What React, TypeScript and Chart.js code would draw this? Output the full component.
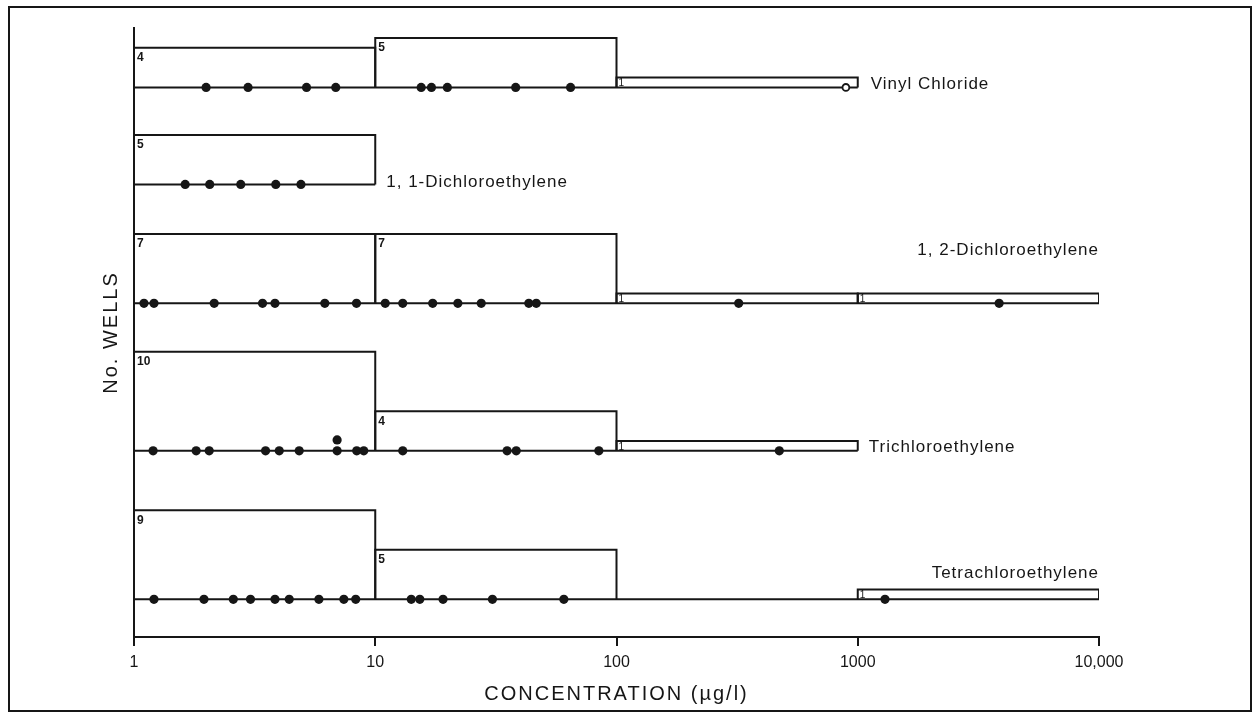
import { useEffect, useRef } from "react";
import { Chart, registerables } from "chart.js";

Chart.register(...registerables);

const INK = "#161616";

// ---- axis data ----
const binEdges = [1, 10, 100, 1000, 10000];
const xTickValues = [1, 10, 100, 1000, 10000];
const xTickLabels = ["1", "10", "100", "1000", "10,000"];
const xAxisTitle = "CONCENTRATION (\u00b5g/l)";
const yAxisTitle = "No. WELLS";

// ---- compounds ----
const compoundNames = [
  "Vinyl Chloride",
  "1, 1-Dichloroethylene",
  "1, 2-Dichloroethylene",
  "Trichloroethylene",
  "Tetrachloroethylene",
];

// number of wells per decade bin (1-10, 10-100, 100-1000, 1000-10000)
const vinylCounts = [4, 5, 1, 0];
const dce11Counts = [5, 0, 0, 0];
const dce12Counts = [7, 7, 1, 1];
const tceCounts = [10, 4, 1, 0];
const pceCounts = [9, 5, 0, 1];

// individual well concentrations (ug/l)
const vinylValues = [1.99, 2.97, 5.19, 6.86, 15.5, 17.1, 19.9, 38.2, 64.5];
const vinylOpenValues = [893];
const dce11Values = [1.63, 2.06, 2.77, 3.87, 4.92];
const dce12Values = [1.1, 1.21, 2.15, 3.41, 3.84, 6.18, 8.36, 11.0, 13.0, 17.3, 22.0, 27.5, 43.3, 46.5, 321, 3855];
const tceValues = [1.2, 1.81, 2.05, 3.51, 4.0, 4.84, 6.95, 8.38, 8.96, 13.0, 35.2, 38.4, 84.5, 473];
const tceStackedValues = [6.95];
const pceValues = [1.21, 1.95, 2.58, 3.04, 3.84, 4.4, 5.84, 7.41, 8.3, 14.1, 15.3, 19.1, 30.6, 60.5, 1297];

const countsByCompound = [vinylCounts, dce11Counts, dce12Counts, tceCounts, pceCounts];
const valuesByCompound = [vinylValues, dce11Values, dce12Values, tceValues, pceValues];

// ---- layout (positions / styles, not data) ----
const Y_MAX = 61.5;
const panelBaselines = [55.5, 45.7, 33.7, 18.8, 3.8];
const labelAnchors = [
  { x: 1000, dx: 13, dy: 0.3, align: "left" },
  { x: 10, dx: 11, dy: 0.2, align: "left" },
  { x: 10000, dx: 0, dy: 5.35, align: "right" },
  { x: 1000, dx: 11, dy: 0.4, align: "left" },
  { x: 10000, dx: 0, dy: 2.6, align: "right" },
];
const STACK_STEP = 1.1;

function buildDatasets() {
  const ds: any[] = [];
  valuesByCompound.forEach((vals, i) => {
    const b = panelBaselines[i];
    ds.push({
      type: "scatter",
      data: vals.map((v) => ({ x: v, y: b })),
      pointRadius: 4.6,
      pointBackgroundColor: INK,
      pointBorderWidth: 0,
      showLine: false,
      order: 0,
    });
  });
  ds.push({
    type: "scatter",
    data: vinylOpenValues.map((v) => ({ x: v, y: panelBaselines[0] })),
    pointRadius: 3.4,
    pointBackgroundColor: "#ffffff",
    pointBorderColor: INK,
    pointBorderWidth: 1.8,
    showLine: false,
    order: 0,
  });
  ds.push({
    type: "scatter",
    data: tceStackedValues.map((v) => ({ x: v, y: panelBaselines[3] + STACK_STEP })),
    pointRadius: 4.6,
    pointBackgroundColor: INK,
    pointBorderWidth: 0,
    showLine: false,
    order: 0,
  });
  countsByCompound.forEach((counts, i) => {
    const b = panelBaselines[i];
    let last = 0;
    counts.forEach((c, k) => {
      if (c > 0) {
        last = k;
        const lo = binEdges[k];
        const hi = binEdges[k + 1];
        ds.push({
          type: "scatter",
          showLine: true,
          data: [
            { x: lo, y: b },
            { x: lo, y: b + c },
            { x: hi, y: b + c },
            { x: hi, y: b },
          ],
          borderColor: INK,
          borderWidth: 2,
          pointRadius: 0,
          borderJoinStyle: "miter",
          tension: 0,
          order: 1,
        });
      }
    });
    ds.push({
      type: "scatter",
      showLine: true,
      data: [
        { x: binEdges[0], y: b },
        { x: binEdges[last + 1], y: b },
      ],
      borderColor: INK,
      borderWidth: 2,
      pointRadius: 0,
      order: 1,
    });
  });
  return ds;
}

const textPlugin = {
  id: "panelText",
  beforeDraw(chart: any) {
    chart.ctx.letterSpacing = "2px";
  },
  beforeDatasetsDraw(chart: any) {
    chart.ctx.letterSpacing = "0px";
  },
  afterDatasetsDraw(chart: any) {
    const { ctx } = chart;
    const xs = chart.scales.x;
    const ys = chart.scales.y;
    ctx.save();
    ctx.fillStyle = INK;
    ctx.textBaseline = "top";
    ctx.textAlign = "left";
    countsByCompound.forEach((counts, i) => {
      const b = panelBaselines[i];
      counts.forEach((c, k) => {
        if (c <= 0) return;
        const px = xs.getPixelForValue(binEdges[k]);
        const py = ys.getPixelForValue(b + c);
        if (c > 1) {
          ctx.font = "bold 12px 'Liberation Sans'";
          ctx.fillText(String(c), px + 3, py + 4);
        } else {
          ctx.font = "10px 'Liberation Sans'";
          ctx.fillText(String(c), px + 2, py + 1);
        }
      });
    });
    ctx.font = "17px 'Liberation Sans'";
    ctx.letterSpacing = "1px";
    ctx.textBaseline = "middle";
    compoundNames.forEach((name, i) => {
      const a = labelAnchors[i];
      ctx.textAlign = a.align;
      const px = xs.getPixelForValue(a.x) + a.dx;
      const py = ys.getPixelForValue(panelBaselines[i] + a.dy);
      ctx.fillText(name, px, py);
    });
    ctx.restore();
  },
};

export default function App() {
  const ref = useRef<HTMLCanvasElement>(null);
  useEffect(() => {
    const chart = new Chart(ref.current as HTMLCanvasElement, {
      type: "scatter",
      data: { datasets: buildDatasets() },
      plugins: [textPlugin],
      options: {
        responsive: false,
        animation: false,
        layout: { padding: { left: 0, top: 28, right: 160, bottom: 0 } },
        plugins: { legend: { display: false }, tooltip: { enabled: false } },
        scales: {
          x: {
            type: "logarithmic",
            min: 1,
            max: 10000,
            afterBuildTicks: (axis: any) => {
              axis.ticks = xTickValues.map((value) => ({ value }));
            },
            afterFit: (axis: any) => {
              axis.height = 83;
            },
            ticks: {
              autoSkip: false,
              maxRotation: 0,
              color: INK,
              padding: 7,
              z: 1,
              font: { family: "'Liberation Sans'", size: 16 },
              callback: (value: any) => {
                const i = xTickValues.indexOf(Number(value));
                return i >= 0 ? xTickLabels[i] : "";
              },
            },
            grid: { drawOnChartArea: false, drawTicks: true, tickLength: 9, color: INK, lineWidth: 2 },
            border: { display: true, color: INK, width: 2 },
            title: {
              display: true,
              text: xAxisTitle,
              color: INK,
              font: { family: "'Liberation Sans'", size: 20 },
              padding: { top: 0, bottom: 14 },
            },
          },
          y: {
            type: "linear",
            min: 0,
            max: Y_MAX,
            afterFit: (axis: any) => {
              axis.width = 134;
            },
            ticks: { display: false },
            grid: { display: false, drawTicks: false },
            border: { display: true, color: INK, width: 2 },
            title: {
              display: true,
              text: yAxisTitle,
              color: INK,
              font: { family: "'Liberation Sans'", size: 20 },
              padding: { top: 99, bottom: 0 },
            },
          },
        },
      } as any,
    });
    return () => chart.destroy();
  }, []);
  return (
    <div style={{ position: "absolute", left: 0, top: 0, width: 1259, height: 720, background: "#ffffff" }}>
      <canvas
        ref={ref}
        width={1259}
        height={720}
        style={{ position: "absolute", left: 0, top: 0, width: 1259, height: 720 }}
      />
      <div
        style={{
          position: "absolute",
          left: 8,
          top: 6,
          width: 1244,
          height: 706,
          border: `2px solid ${INK}`,
          boxSizing: "border-box",
          pointerEvents: "none",
        }}
      />
    </div>
  );
}
